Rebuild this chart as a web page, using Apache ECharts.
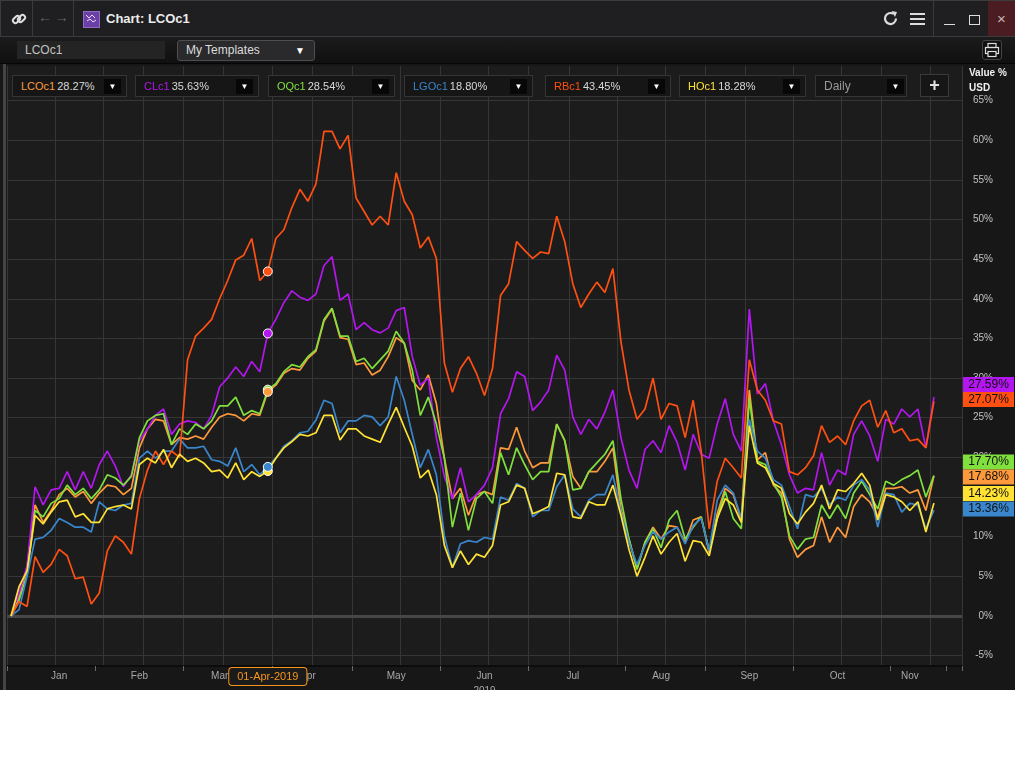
<!DOCTYPE html>
<html>
<head>
<meta charset="utf-8">
<script src="https://cdn.jsdelivr.net/npm/echarts@6/dist/echarts.min.js"></script>
<style>
  body { margin: 0; background: #fff; width: 1020px; height: 760px; overflow: hidden; font-family: 'Liberation Sans', Arial, sans-serif; }
  #win { position: absolute; left: 0; top: 0; width: 1015px; height: 690px; background: #171717; overflow: hidden; }
  .abs { position: absolute; }
  #titlebar { left: 0; top: 0; width: 1013px; height: 35px; background: #1f1f22; border: 1px solid #3c3c3c; }
  .vsep { position: absolute; top: 1px; width: 1px; height: 35px; background: #3a3a3a; }
  #toolbar { left: 0; top: 37px; width: 1015px; height: 26px; background: linear-gradient(#1b1b1b, #101010); border-bottom: 1px solid #050505; }
  #chart { position: absolute; left: 0; top: 64px; width: 1015px; height: 626px; }
  .lg { position: absolute; top: 75px; height: 22px; background: #161616; border: 1px solid #353535; box-sizing: border-box; font-size: 11px; line-height: 20px; color: #d8d8d8; padding-left: 8px; white-space: nowrap; }
  .dd { position: absolute; right: 5px; top: 3px; width: 17px; height: 15px; background: #070707; color: #fff; font-size: 8px; line-height: 15px; text-align: center; }
</style>
</head>
<body>
<div id="win">
  <div id="titlebar" class="abs"></div>
  <div class="vsep" style="left:32px"></div>
  <div class="vsep" style="left:73px"></div>
  <div class="vsep" style="left:933px"></div>
  <svg class="abs" style="left:11px;top:11px" width="16" height="16" viewBox="0 0 16 16">
    <rect x="1.5" y="6" width="8" height="5" rx="2.5" transform="rotate(-45 5.5 8.5)" fill="none" stroke="#ddd" stroke-width="2"/>
    <rect x="6.5" y="5" width="8" height="5" rx="2.5" transform="rotate(-45 10.5 7.5)" fill="none" stroke="#ddd" stroke-width="2"/>
  </svg>
  <div class="abs" style="left:38px;top:9px;color:#666;font-size:14px;font-weight:bold">&#8592;&#8201;&#8594;</div>
  <div class="abs" style="left:83px;top:11px;width:15px;height:15px;background:#6b40a6;border:1px solid #8d6cc4"></div>
  <svg class="abs" style="left:85px;top:13px" width="12" height="12" viewBox="0 0 12 12">
    <path d="M1 2 L4 5 L7 2 L10 5 M2 8 L5 6 L8 9 L11 7" stroke="#e9dcff" stroke-width="1" fill="none"/>
  </svg>
  <div class="abs" style="left:106px;top:11px;color:#ececec;font-size:13px;font-weight:bold">Chart: LCOc1</div>
  <svg class="abs" style="left:882px;top:10px" width="17" height="17" viewBox="0 0 17 17">
    <path d="M14 8.5 A5.5 5.5 0 1 1 11.5 3.9" fill="none" stroke="#dcdcdc" stroke-width="2.2"/>
    <path d="M9.5 1 L15 2 L13 7 Z" fill="#dcdcdc"/>
  </svg>
  <div class="abs" style="left:910px;top:13px;width:15px;height:2px;background:#dcdcdc"></div>
  <div class="abs" style="left:910px;top:18px;width:15px;height:2px;background:#dcdcdc"></div>
  <div class="abs" style="left:910px;top:23px;width:15px;height:2px;background:#dcdcdc"></div>
  <div class="abs" style="left:944px;top:24px;width:11px;height:1px;background:#dcdcdc"></div>
  <div class="abs" style="left:969px;top:15px;width:9px;height:8px;border:1px solid #dcdcdc"></div>
  <div class="abs" style="left:988px;top:1px;width:27px;height:35px;background:#4b1c21;color:#c9b5b5;font-size:15px;line-height:35px;text-align:center">&#215;</div>

  <div id="toolbar" class="abs"></div>
  <div class="abs" style="left:17px;top:41px;width:148px;height:18px;background:#242424;color:#c2c2c2;font-size:12px;line-height:18px;padding-left:8px;box-sizing:border-box">LCOc1</div>
  <div class="abs" style="left:177px;top:40px;width:138px;height:21px;background:#2a2a2c;border:1px solid #4e4e4e;border-radius:3px;box-sizing:border-box;color:#dcdcdc;font-size:12px;line-height:19px;padding-left:8px">My Templates<span style="position:absolute;right:9px;top:0;color:#fff;font-size:10px">&#9660;</span></div>
  <div class="abs" style="left:982px;top:40px;width:20px;height:20px;background:#101010;border:1px solid #444;border-radius:3px;box-sizing:border-box"></div>
  <svg class="abs" style="left:984px;top:42px" width="16" height="16" viewBox="0 0 16 16">
    <rect x="4" y="1.5" width="8" height="4" fill="none" stroke="#ddd" stroke-width="1.2"/>
    <rect x="1.5" y="5.5" width="13" height="6" fill="none" stroke="#ddd" stroke-width="1.2"/>
    <rect x="4" y="9.5" width="8" height="5" fill="#101010" stroke="#ddd" stroke-width="1.2"/>
  </svg>

  <div id="chart"></div>
  <div class="abs" style="left:3px;top:64px;width:3px;height:626px;background:#434348"></div>
  <div id="legend"></div>
  <div class="lg" style="left:815px;width:92px;color:#9a9a9a;font-size:12px">Daily<div class="dd" style="right:2px">&#9660;</div></div>
  <div class="abs" style="left:920px;top:74px;width:29px;height:23px;background:#161616;border:1px solid #3a3a3a;box-sizing:border-box;color:#e0e0e0;font-size:18px;font-weight:bold;line-height:20px;text-align:center">+</div>
  <div class="abs" style="left:969px;top:67px;color:#f0f0f0;font-size:10px;font-weight:bold">Value %</div>
  <div class="abs" style="left:969px;top:82px;color:#f0f0f0;font-size:10px;font-weight:bold">USD</div>
</div>

<script>
// sampled trading days (every second session), plus three empty slots after the last close
const dates = [
  '2019-01-02','2019-01-03','2019-01-07','2019-01-09','2019-01-11','2019-01-15','2019-01-17','2019-01-21','2019-01-23','2019-01-25','2019-01-29','2019-01-31',
  '2019-02-04','2019-02-06','2019-02-08','2019-02-12','2019-02-14','2019-02-18','2019-02-20','2019-02-22','2019-02-26','2019-02-28',
  '2019-03-04','2019-03-06','2019-03-08','2019-03-12','2019-03-14','2019-03-18','2019-03-20','2019-03-22','2019-03-26','2019-03-28',
  '2019-04-01','2019-04-03','2019-04-05','2019-04-09','2019-04-11','2019-04-15','2019-04-17','2019-04-19','2019-04-23','2019-04-25','2019-04-29',
  '2019-05-01','2019-05-03','2019-05-07','2019-05-09','2019-05-13','2019-05-15','2019-05-17','2019-05-21','2019-05-23','2019-05-27','2019-05-29','2019-05-31',
  '2019-06-04','2019-06-06','2019-06-10','2019-06-12','2019-06-14','2019-06-18','2019-06-20','2019-06-24','2019-06-26','2019-06-28',
  '2019-07-02','2019-07-04','2019-07-08','2019-07-10','2019-07-12','2019-07-16','2019-07-18','2019-07-22','2019-07-24','2019-07-26','2019-07-30',
  '2019-08-01','2019-08-05','2019-08-07','2019-08-09','2019-08-13','2019-08-15','2019-08-19','2019-08-21','2019-08-23','2019-08-27','2019-08-29',
  '2019-09-02','2019-09-04','2019-09-06','2019-09-10','2019-09-12','2019-09-16','2019-09-18','2019-09-20','2019-09-24','2019-09-26','2019-09-30',
  '2019-10-02','2019-10-04','2019-10-08','2019-10-10','2019-10-14','2019-10-16','2019-10-18','2019-10-22','2019-10-24','2019-10-28','2019-10-30',
  '2019-11-01','2019-11-05','2019-11-07','2019-11-11','2019-11-13','2019-11-15','2019-11-19',
  '2019-11-21','2019-11-25','2019-11-27'
];

const monthNames = ['Jan','Feb','Mar','Apr','May','Jun','Jul','Aug','Sep','Oct','Nov','Dec'];
const cursorDate = '2019-04-01';

// % change since 2 Jan 2019
const lcoc1 = [0,2.5,6.1,14.0,11.8,13.3,15.3,16.1,15.0,15.7,14.2,15.5,16.5,16.3,15.3,16.1,21.2,23.6,24.8,24.6,21.6,22.5,
  22.3,22.7,22.3,23.8,25.1,25.5,25.3,24.6,25.5,25.3,28.27,29.1,30.6,31.2,31.0,32.5,33.4,37.2,38.7,35.1,34.9,
  31.7,31.9,30.4,31.0,32.7,35.1,34.4,29.7,28.5,30.4,26.8,19.9,14.8,16.1,12.7,15.3,15.7,15.3,21.2,21.0,23.8,20.8,
  18.7,19.3,19.3,24.2,22.1,17.6,16.1,18.2,18.2,19.5,21.2,13.5,9.7,5.9,9.3,11.2,9.7,11.4,11.2,9.3,12.1,12.5,
  8.0,12.9,16.1,15.3,12.1,28.5,19.7,20.6,16.5,15.5,9.7,7.4,8.4,8.9,12.5,9.3,11.2,9.9,13.8,15.3,14.4,12.5,
  16.1,16.1,16.3,15.5,15.9,13.3,17.68];
const clc1 = [0,2.9,6.3,16.3,14.0,15.9,16.1,18.2,15.9,18.2,16.1,19.1,20.8,18.9,16.3,17.8,22.1,23.6,25.3,26.1,22.9,24.2,
  24.6,24.4,23.6,25.3,28.9,30.0,31.4,30.2,32.1,30.8,35.63,37.4,39.5,41.0,40.2,39.8,40.6,44.2,45.3,39.8,40.6,
  36.1,37.0,36.1,35.7,36.3,38.5,38.9,32.7,29.1,30.0,22.5,17.6,14.8,18.7,14.4,15.3,16.5,18.7,25.5,27.4,30.8,30.2,
  25.9,27.0,28.5,32.9,31.0,25.1,22.9,24.8,23.6,25.7,28.5,22.5,18.4,16.1,21.0,22.1,20.6,24.0,21.9,18.4,22.9,20.4,
  19.9,24.2,27.4,22.9,20.8,38.7,28.0,29.3,24.6,21.6,17.8,15.5,16.1,15.9,20.6,16.5,18.4,17.8,22.9,24.6,22.7,19.5,
  24.8,24.2,26.1,25.1,26.1,21.2,27.59];
const oqc1 = [0,2.0,5.2,13.3,12.5,14.2,14.8,16.5,15.3,16.1,14.8,15.9,17.8,17.4,16.5,17.6,22.5,24.6,25.3,25.5,21.6,23.6,
  22.9,24.2,23.6,24.6,26.5,26.5,27.6,25.3,25.9,25.5,28.54,29.3,30.8,31.7,31.4,32.7,33.6,37.4,38.8,35.3,35.3,
  32.1,32.5,31.2,32.3,33.4,35.9,34.4,31.0,25.3,27.6,24.2,19.9,11.2,15.5,10.8,14.8,15.7,14.2,20.6,17.8,21.2,19.1,
  17.2,18.2,18.2,24.2,22.1,15.9,16.1,18.2,19.3,20.4,22.1,14.8,9.7,5.9,9.3,11.0,8.6,12.1,13.3,9.7,11.2,12.5,
  8.2,12.3,15.7,12.3,11.0,27.4,19.5,19.1,16.7,15.0,10.1,8.4,9.7,9.9,14.0,12.3,14.0,12.3,15.5,17.0,15.3,13.5,
  17.0,16.5,17.2,17.7,18.4,15.0,17.70];
const lgoc1 = [0,0.8,5.0,9.7,9.9,10.8,12.3,11.8,11.2,11.2,10.6,14.4,13.5,13.3,14.0,14.2,19.9,20.8,19.9,20.8,20.8,22.3,
  21.2,21.2,21.4,19.7,19.5,18.9,21.2,18.2,19.1,17.8,18.80,19.9,21.4,22.1,23.1,23.3,24.7,27.2,26.8,23.1,24.6,
  24.6,25.3,25.1,24.0,25.1,30.2,27.2,22.9,18.7,21.0,17.8,10.1,6.1,9.1,9.5,9.3,9.9,9.7,15.0,14.6,16.7,16.1,
  12.5,13.3,13.3,16.3,17.8,13.5,12.5,14.6,15.3,15.3,17.8,13.1,9.3,6.5,8.9,10.6,9.7,10.6,11.2,9.1,11.4,12.3,
  8.2,14.6,16.5,15.5,12.3,24.8,20.8,19.9,17.2,16.5,13.8,11.0,15.3,15.0,16.1,14.0,15.0,14.6,16.5,17.2,15.9,11.2,
  15.5,15.3,13.1,14.2,14.0,11.0,13.36];
const rbc1 = [0,1.8,1.2,7.5,5.5,6.5,8.4,7.6,4.7,4.9,1.5,2.9,8.2,10.1,9.3,7.8,14.8,18.4,20.8,19.1,20.8,20.0,
  32.3,35.3,36.3,37.4,40.0,42.3,44.9,45.5,47.6,42.3,43.45,47.6,48.7,51.5,53.8,52.3,54.5,61.1,61.1,58.9,60.6,
  52.7,51.0,49.3,50.4,49.3,55.9,52.3,50.6,46.4,47.8,45.1,31.9,28.2,31.2,32.7,30.6,27.8,31.2,40.4,41.9,47.2,46.1,
  45.1,45.9,45.7,50.4,47.2,41.9,38.9,40.6,42.1,40.8,43.8,34.6,28.5,24.8,26.1,30.0,24.8,26.8,26.5,22.5,27.2,20.8,
  11.0,17.0,19.9,18.7,17.4,32.3,28.5,27.2,24.6,24.2,18.2,17.8,18.7,20.2,24.0,21.9,22.7,21.6,24.6,26.5,27.2,23.8,
  25.9,23.1,23.6,22.1,22.3,21.2,27.07];
const hoc1 = [0,3.7,5.7,12.7,11.6,13.1,14.4,14.6,12.5,12.9,11.8,11.8,13.5,13.8,14.0,13.5,19.1,19.9,19.3,21.0,18.7,20.4,
  19.5,19.9,19.3,18.2,18.4,17.4,19.3,17.2,18.2,17.6,18.28,19.9,21.2,22.0,22.9,22.7,23.1,25.3,25.3,22.2,23.6,
  23.6,22.7,22.3,21.9,24.2,26.3,23.8,21.4,17.4,18.4,15.3,8.9,6.1,8.2,6.5,7.8,7.4,8.9,14.0,14.4,16.5,16.1,
  12.9,13.3,13.8,18.0,17.8,12.5,12.3,14.4,14.0,14.0,16.5,12.7,8.4,5.0,7.4,10.1,7.8,9.3,10.4,6.9,9.5,9.3,
  7.6,12.3,14.8,14.0,11.8,24.0,19.3,18.7,16.7,16.1,12.9,11.6,13.1,14.2,16.5,13.5,15.9,15.7,16.7,18.0,16.5,12.1,
  15.3,15.0,14.4,13.3,14.4,10.6,14.23];

const seriesDefs = [
  { code: 'LCOc1', data: lcoc1, color: '#ff9a3c', endDy: 1.2, z: 6 },
  { code: 'CLc1', data: clc1, color: '#b316ef', endDy: -12.7, z: 5 },
  { code: 'OQc1', data: oqc1, color: '#80e03e', endDy: -13.6, z: 5 },
  { code: 'LGOc1', data: lgoc1, color: '#3a86cc', endDy: -1.1, z: 6 },
  { code: 'RBc1', data: rbc1, color: '#ff5012', endDy: -1.8, z: 5 },
  { code: 'HOc1', data: hoc1, color: '#ffe234', endDy: -9.7, z: 5 }
];

// axis decoration (category indices)
const monthTickAt = [0, 11, 22, 33, 43, 54, 65, 77, 87, 98, 110, 117];
const monthLabelAt = [6, 16, 26, 37, 48, 59, 70, 81, 92, 103, 112];
const gridLineAt = [0, 6, 12, 17, 22, 27, 33, 38, 43, 49, 54, 60, 65, 70, 76, 82, 87, 92, 98, 104, 109, 115];

const cursorIdx = dates.indexOf(cursorDate);

function fmtDate(d) {
  const p = d.split('-');
  return p[2] + '-' + monthNames[+p[1] - 1] + '-' + p[0];
}

// legend buttons
const legendPos = [[12, 115], [135, 124], [268, 127], [404, 129], [545, 126], [679, 127]];
const legendEl = document.getElementById('legend');
seriesDefs.forEach((s, i) => {
  const div = document.createElement('div');
  div.className = 'lg';
  div.style.left = legendPos[i][0] + 'px';
  div.style.width = legendPos[i][1] + 'px';
  div.innerHTML = '<span style="color:' + s.color + ';margin-right:2px">' + s.code + '</span>' + s.data[cursorIdx].toFixed(2) + '%' +
    '<div class="dd">&#9660;</div>';
  legendEl.appendChild(div);
});

const chart = echarts.init(document.getElementById('chart'));

const series = seriesDefs.map((s, i) => {
  const last = s.data.length - 1;
  const ser = {
    name: s.code,
    type: 'line',
    xAxisIndex: 1,
    yAxisIndex: 1,
    data: s.data,
    showSymbol: false,
    clip: false,
    lineStyle: { color: s.color, width: 1.7 },
    itemStyle: { color: s.color },
    markPoint: {
      silent: true,
      z: s.z,
      data: [
        {
          coord: [cursorIdx, s.data[cursorIdx]], symbol: 'circle', symbolSize: 9,
          itemStyle: { color: s.color, borderColor: '#fff', borderWidth: 1 },
          label: { show: false }
        },
        {
          coord: [last, s.data[last]], symbol: 'rect', symbolSize: [51, 15], symbolOffset: [54.6, s.endDy],
          itemStyle: { color: s.color, borderWidth: 0 },
          label: {
            show: true, position: 'inside', formatter: s.data[last].toFixed(2) + '%',
            color: '#111', fontSize: 12, fontFamily: 'Liberation Sans'
          }
        }
      ]
    }
  };
  if (i === 0) {
    ser.markLine = {
      silent: true, symbol: 'none', z: 1,
      label: { show: false },
      lineStyle: { color: '#474747', width: 3, type: 'solid' },
      data: [{ yAxis: 0 }]
    };
  }
  return ser;
});

chart.setOption({
  animation: false,
  backgroundColor: '#171717',
  textStyle: { fontFamily: 'Liberation Sans' },
  grid: [
    { left: 7, top: 2, width: 955, height: 600, show: true, backgroundColor: '#1c1c1c', borderWidth: 0, outerBoundsMode: 'none', containLabel: false },
    { left: 7, top: 36.5, width: 955, height: 555.15, outerBoundsMode: 'none', containLabel: false }
  ],
  xAxis: [
    {
      type: 'category', gridIndex: 0, data: dates, boundaryGap: true,
      axisLine: { show: true, onZero: false, lineStyle: { color: '#0c0c0c', width: 2 } },
      axisTick: { show: true, length: 5, interval: (i) => monthTickAt.includes(i), lineStyle: { color: '#6a6a6a' } },
      axisLabel: {
        interval: (i) => monthLabelAt.includes(i),
        formatter: (v) => monthNames[+v.slice(5, 7) - 1],
        color: '#a8a8a8', fontSize: 10, margin: 5
      },
      splitLine: { show: true, interval: (i) => gridLineAt.includes(i), lineStyle: { color: '#363636', width: 1 } },
      name: '2019', nameLocation: 'middle', nameGap: 17,
      nameTextStyle: { color: '#a8a8a8', fontSize: 10 },
      axisPointer: {
        show: true, type: 'line', value: cursorIdx, status: 'show', triggerTooltip: false,
        lineStyle: { color: 'rgba(0,0,0,0)' },
        label: {
          show: true, margin: 2,
          formatter: (p) => fmtDate(typeof p.value === 'number' ? dates[p.value] : p.value),
          backgroundColor: '#1b1b1b', borderColor: '#f7941d', borderWidth: 1,
          color: '#f7941d', fontSize: 11, padding: [3, 8, 3, 8]
        }
      }
    },
    { type: 'category', gridIndex: 1, data: dates, boundaryGap: true, show: false }
  ],
  yAxis: [
    { type: 'value', gridIndex: 0, min: 0, max: 1, show: false, splitLine: { show: false } },
    {
      type: 'value', gridIndex: 1, position: 'right', min: -5, max: 65, interval: 5,
      axisLine: { show: false }, axisTick: { show: false },
      axisLabel: { formatter: '{value}%', color: '#c0c0c0', fontSize: 10, align: 'right', margin: 31 },
      splitLine: { show: true, lineStyle: { color: '#363636', width: 1 } }
    }
  ],
  axisPointer: { triggerOn: 'none' },
  series: series
});
</script>
</body>
</html>
